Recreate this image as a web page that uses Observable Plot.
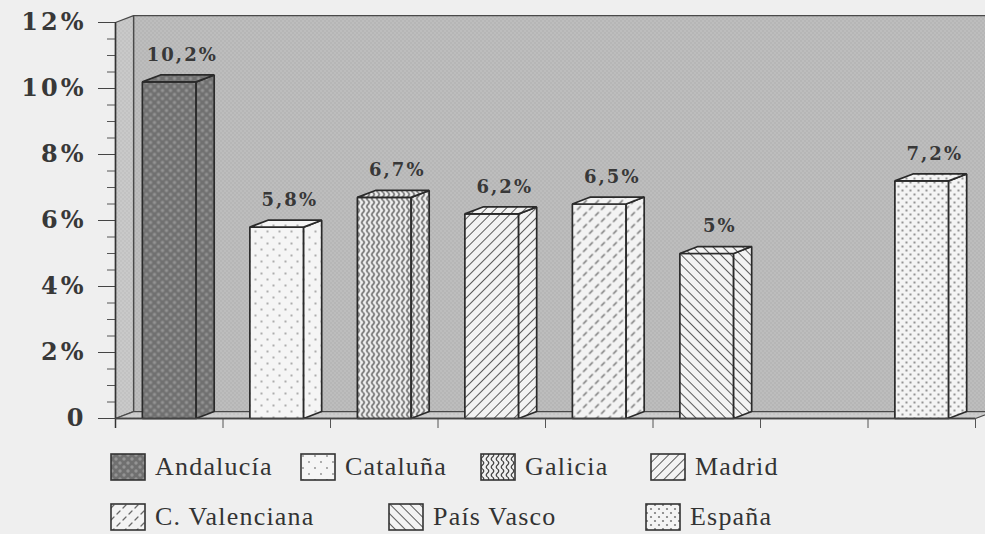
<!DOCTYPE html>
<html>
<head>
<meta charset="utf-8">
<script src="https://cdn.jsdelivr.net/npm/d3@7"></script>
<script src="https://cdn.jsdelivr.net/npm/@observablehq/plot@0.6"></script>
<style>
  html, body { margin: 0; padding: 0; background: #efefef; }
  #page { position: relative; width: 985px; height: 534px; overflow: hidden; background: #efefef; }
  #chart { position: absolute; left: 0; top: 0; }
  #chart g[aria-label="y-axis tick label"] text { letter-spacing: 3px; }
  #chart g[aria-label="text"] text { letter-spacing: 2px; }
  .item { position: absolute; display: flex; align-items: center; height: 28px;
          font-family: "Liberation Serif", "Times New Roman", serif; font-size: 26px; letter-spacing: 1.2px; color: #333; white-space: nowrap; }
  .item svg { margin-right: 9px; flex: none; }
</style>
</head>
<body>
<!-- fill patterns shared by the chart and the legend -->
<svg width="0" height="0" style="position:absolute">
  <defs>
    <pattern id="wall" width="4" height="4" patternUnits="userSpaceOnUse">
      <rect width="4" height="4" fill="#bdbdbd"/>
      <rect x="0" y="0" width="1" height="1" fill="#a2a2a2"/>
      <rect x="2" y="2" width="1" height="1" fill="#a2a2a2"/>
    </pattern>
    <pattern id="wallSide" width="4" height="4" patternUnits="userSpaceOnUse">
      <rect width="4" height="4" fill="#c9c9c9"/>
      <rect x="0" y="0" width="1" height="1" fill="#ababab"/>
      <rect x="2" y="2" width="1" height="1" fill="#ababab"/>
    </pattern>
    <pattern id="floor" width="4" height="4" patternUnits="userSpaceOnUse">
      <rect width="4" height="4" fill="#cdcdcd"/>
      <rect x="1" y="1" width="1" height="1" fill="#afafaf"/>
    </pattern>
    <pattern id="pAnd" width="8" height="8" patternUnits="userSpaceOnUse">
      <rect width="8" height="8" fill="#707070"/>
      <circle cx="2" cy="2" r="1.7" fill="#949494"/>
      <circle cx="6" cy="6" r="1.7" fill="#949494"/>
    </pattern>
    <pattern id="pCat" width="12" height="12" patternUnits="userSpaceOnUse">
      <rect width="12" height="12" fill="#f5f5f5"/>
      <circle cx="3" cy="3" r="0.9" fill="#8a8a8a"/>
      <circle cx="9" cy="9" r="0.9" fill="#8a8a8a"/>
    </pattern>
    <pattern id="pGal" width="5" height="8" patternUnits="userSpaceOnUse">
      <rect width="5" height="8" fill="#f0f0f0"/>
      <path d="M2.5 0 Q5 2 2.5 4 Q0 6 2.5 8" fill="none" stroke="#444" stroke-width="1.3"/>
    </pattern>
    <pattern id="pMad" width="7" height="7" patternUnits="userSpaceOnUse" patternTransform="rotate(45)">
      <rect width="7" height="7" fill="#f3f3f3"/>
      <line x1="0" y1="0" x2="0" y2="7" stroke="#333" stroke-width="1.6"/>
    </pattern>
    <pattern id="pVal" width="12" height="12" patternUnits="userSpaceOnUse">
      <rect width="12" height="12" fill="#f3f3f3"/>
      <path d="M1 5 L4 2 M7 11 L10 8" stroke="#6a6a6a" stroke-width="1.3" stroke-linecap="round"/>
    </pattern>
    <pattern id="pVas" width="7" height="7" patternUnits="userSpaceOnUse" patternTransform="rotate(-45)">
      <rect width="7" height="7" fill="#f3f3f3"/>
      <line x1="0" y1="0" x2="0" y2="7" stroke="#333" stroke-width="1.6"/>
    </pattern>
    <pattern id="pEsp" width="8" height="8" patternUnits="userSpaceOnUse">
      <rect width="8" height="8" fill="#f4f4f4"/>
      <circle cx="2" cy="2" r="1.1" fill="#7c7c7c"/>
      <circle cx="6" cy="6" r="1.1" fill="#7c7c7c"/>
    </pattern>
  </defs>
</svg>

<div id="page">
  <div id="chart"></div>
  <div id="legend"></div>
</div>

<script>
// Slots along the x axis; the empty slot leaves a gap before the national figure.
const slots = ["Andalucía", "Cataluña", "Galicia", "Madrid", "C. Valenciana", "País Vasco", "", "España"];
const regions = ["Andalucía", "Cataluña", "Galicia", "Madrid", "C. Valenciana", "País Vasco", "España"];
const values = [10.2, 5.8, 6.7, 6.2, 6.5, 5, 7.2];
const yTicks = [0, 2, 4, 6, 8, 10, 12];
const yTickLabels = ["0", "2%", "4%", "6%", "8%", "10%", "12%"];
const legendRows = [
  ["Andalucía", "Cataluña", "Galicia", "Madrid"],
  ["C. Valenciana", "País Vasco", "España"]
];

// Fill pattern for each region
const patternOf = {
  "Andalucía": "url(#pAnd)",
  "Cataluña": "url(#pCat)",
  "Galicia": "url(#pGal)",
  "Madrid": "url(#pMad)",
  "C. Valenciana": "url(#pVal)",
  "País Vasco": "url(#pVas)",
  "España": "url(#pEsp)"
};

// Oblique depth of the pseudo-3D extrusion (x in slot units, y in percentage points)
const DX = 0.168, DY = 0.21, HALF = 0.25;
const YMAX = 12, N = slots.length;

const fmt = v => String(v).replace(".", ",") + "%";

// Walls and floor of the box
const box = [];
const addPoly = (arr, id, pts, fill) => pts.forEach(([x, y]) => arr.push({id, x, y, fill}));
addPoly(box, "back", [[DX, DY], [N + DX + 1, DY], [N + DX + 1, YMAX + DY], [DX, YMAX + DY]], "url(#wall)");
addPoly(box, "left", [[0, 0], [DX, DY], [DX, YMAX + DY], [0, YMAX]], "url(#wallSide)");
addPoly(box, "floor", [[0, 0], [N, 0], [N + DX, DY], [DX, DY]], "url(#floor)");

// Front, side and top faces of each bar
const faces = [];
regions.forEach((r, k) => {
  const i = slots.indexOf(r), v = values[k];
  const a = i + 0.5 - HALF, b = i + 0.5 + HALF, f = patternOf[r];
  addPoly(faces, r + "-front", [[a, 0], [b, 0], [b, v], [a, v]], f);
  addPoly(faces, r + "-side", [[b, 0], [b + DX, DY], [b + DX, v + DY], [b, v]], f);
  addPoly(faces, r + "-top", [[a, v], [b, v], [b + DX, v + DY], [a + DX, v + DY]], f);
});

const minorTicks = d3.range(0, YMAX + 0.001, 0.5).filter(t => !yTicks.includes(t));

const chart = Plot.plot({
  width: 985,
  height: 440,
  marginLeft: 115,
  marginRight: 10,
  marginTop: 22,
  marginBottom: 22,
  x: {domain: [0, N], label: null},
  y: {domain: [0, YMAX], label: null},
  color: {type: "identity"},
  style: {background: "transparent", color: "#333", overflow: "visible"},
  marks: [
    Plot.line(box, {x: "x", y: "y", z: "id", fill: "fill", stroke: "#4a4a4a", strokeWidth: 1.3, curve: "linear-closed"}),
    Plot.line(faces, {x: "x", y: "y", z: "id", fill: "fill", stroke: "#2a2a2a", strokeWidth: 1.7, curve: "linear-closed", strokeLinejoin: "miter"}),
    Plot.axisY(minorTicks, {tickSize: 8, tickFormat: () => "", label: null, stroke: "#555"}),
    Plot.axisY(yTicks, {
      tickSize: 17, tickPadding: 12, stroke: "#444", label: null,
      tickFormat: d => yTickLabels[yTicks.indexOf(d)],
      fontSize: 24, fontFamily: "DejaVu Serif", fontWeight: "bold", fill: "#383838"
    }),
    Plot.axisX(d3.range(1, N + 1), {tickSize: 10, tickFormat: () => "", label: null, stroke: "#555"}),
    Plot.ruleX([0], {y1: -0.3, y2: YMAX, stroke: "#333", strokeWidth: 1.5}),
    Plot.ruleY([0], {x1: 0, x2: N, stroke: "#444", strokeWidth: 1.3}),
    Plot.text(regions, {
      x: r => slots.indexOf(r) + 0.5 + DX / 2,
      y: (r, k) => values[k] + DY,
      text: (r, k) => fmt(values[k]),
      dx: 4, dy: -20,
      fontSize: 18, fontFamily: "DejaVu Serif", fontWeight: "bold", fill: "#383838"
    })
  ]
});
document.getElementById("chart").appendChild(chart);

// Legend below the chart
const legendLeft = [[110, 300, 480, 650], [110, 388, 645]];
const legendTop = [453, 503];
const legend = d3.select("#legend");
legendRows.forEach((row, ri) => {
  row.forEach((name, ci) => {
    const item = legend.append("div").attr("class", "item")
      .style("left", legendLeft[ri][ci] + "px")
      .style("top", legendTop[ri] + "px");
    const sw = item.append("svg").attr("width", 36).attr("height", 28);
    sw.append("rect").attr("x", 1).attr("y", 1).attr("width", 34).attr("height", 26)
      .attr("fill", patternOf[name]).attr("stroke", "#333").attr("stroke-width", 1.6);
    item.append("span").text(name);
  });
});
</script>
</body>
</html>
